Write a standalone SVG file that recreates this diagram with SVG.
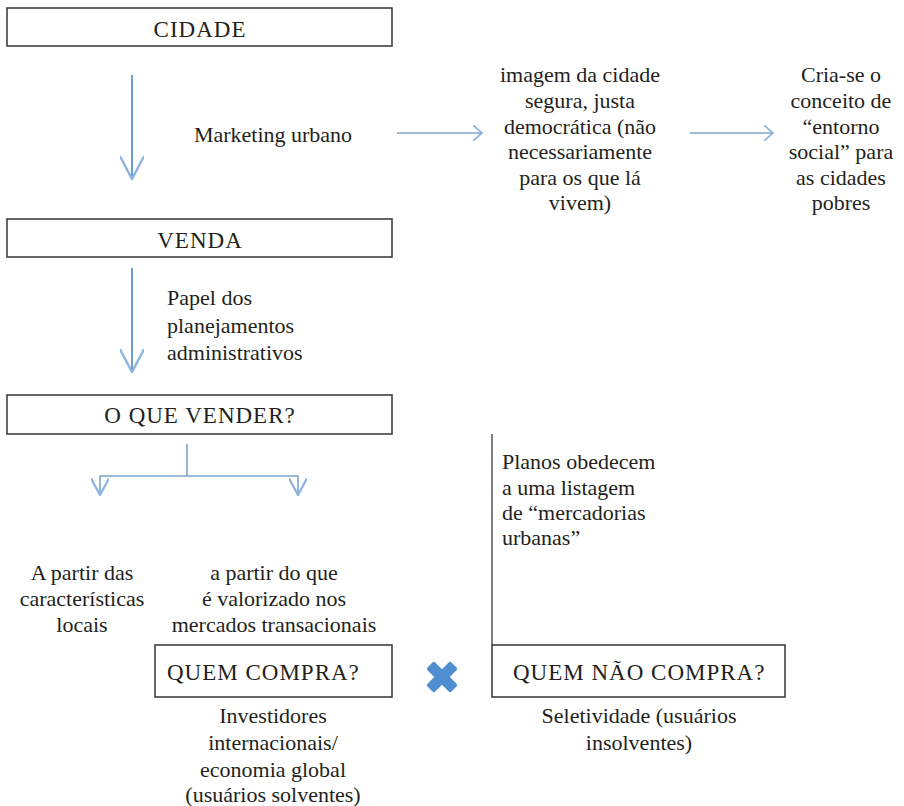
<svg xmlns="http://www.w3.org/2000/svg" width="904" height="806" viewBox="0 0 904 806">
<style>
  .t { font-size: 22px; fill: #231f20; }
  .cap { font-size: 23px; letter-spacing: 1px; }
  .c { text-anchor: middle; }
  .box { fill: #ffffff; stroke: #404040; stroke-width: 1.6; }
  .flow { fill: none; stroke: #6b9bd1; stroke-width: 2; }
  .hflow { fill: none; stroke: #7ea4cb; stroke-width: 1.6; }
  .tline { fill: none; stroke: #3a3a3a; stroke-width: 1.3; }
</style>
<defs>
  <marker id="vhead" markerUnits="userSpaceOnUse" markerWidth="24" markerHeight="24" refX="19" refY="10" orient="auto" viewBox="0 0 20 20">
    <polyline points="0,0 19,10 0,20" fill="none" stroke="#8db4e0" stroke-width="2"/>
  </marker>
  <marker id="bhead" markerUnits="userSpaceOnUse" markerWidth="18" markerHeight="18" refX="13" refY="7" orient="auto" viewBox="0 0 14 14">
    <polyline points="0,0 13,7 0,14" fill="none" stroke="#8db4e0" stroke-width="1.8"/>
  </marker>
  <marker id="hhead" markerUnits="userSpaceOnUse" markerWidth="12" markerHeight="16" refX="8" refY="7" orient="auto" viewBox="0 0 10 14">
    <polyline points="0,0 8,7 0,14" fill="none" stroke="#8db4e0" stroke-width="1.5"/>
  </marker>
</defs>

<g id="connectors">
  <line class="flow" x1="132" y1="75" x2="132" y2="179" marker-end="url(#vhead)"/>
  <line class="flow" x1="132" y1="268" x2="132" y2="372" marker-end="url(#vhead)"/>
  <line class="hflow" x1="397" y1="133" x2="482" y2="133" marker-end="url(#hhead)"/>
  <line class="hflow" x1="690" y1="133" x2="773" y2="133" marker-end="url(#hhead)"/>
  <polyline class="hflow" points="187,444 187,476"/>
  <polyline class="hflow" points="100,494 100,476 298,476 298,494"/>
  <line x1="100" y1="480" x2="100" y2="495" stroke="none" fill="none" marker-end="url(#bhead)"/>
  <line x1="298" y1="480" x2="298" y2="495" stroke="none" fill="none" marker-end="url(#bhead)"/>
  <line class="tline" x1="492" y1="434" x2="492" y2="645"/>
</g>

<g font-family="'Liberation Serif', 'Times New Roman', Times, serif" class="t">
<g id="cidade">
  <rect class="box" x="7" y="8" width="385" height="38"/>
  <text class="c cap" x="200" y="37">CIDADE</text>
</g>

<g id="marketing">
  <text class="c" x="273" y="142">Marketing urbano</text>
</g>

<g id="imagem">
  <text class="c" x="580" y="82">imagem da cidade</text>
  <text class="c" x="580" y="108">segura, justa</text>
  <text class="c" x="580" y="134">democrática (não</text>
  <text class="c" x="580" y="159">necessariamente</text>
  <text class="c" x="580" y="185">para os que lá</text>
  <text class="c" x="580" y="210">vivem)</text>
</g>

<g id="entorno">
  <text class="c" x="841" y="82">Cria-se o</text>
  <text class="c" x="841" y="108">conceito de</text>
  <text class="c" x="841" y="134">“entorno</text>
  <text class="c" x="841" y="159">social” para</text>
  <text class="c" x="841" y="185">as cidades</text>
  <text class="c" x="841" y="210">pobres</text>
</g>

<g id="venda">
  <rect class="box" x="7" y="219" width="385" height="38"/>
  <text class="c cap" x="200" y="248">VENDA</text>
</g>

<g id="papel">
  <text x="167" y="305">Papel dos</text>
  <text x="167" y="333">planejamentos</text>
  <text x="167" y="360">administrativos</text>
</g>

<g id="oquevender">
  <rect class="box" x="7" y="395" width="385" height="39"/>
  <text class="c cap" x="200" y="423">O QUE VENDER?</text>
</g>

<g id="planos">
  <text x="502" y="469">Planos obedecem</text>
  <text x="502" y="495">a uma listagem</text>
  <text x="502" y="520">de “mercadorias</text>
  <text x="502" y="545">urbanas”</text>
</g>

<g id="locais">
  <text class="c" x="82" y="580">A partir das</text>
  <text class="c" x="82" y="606">características</text>
  <text class="c" x="82" y="632">locais</text>
</g>

<g id="valorizado">
  <text class="c" x="274" y="580">a partir do que</text>
  <text class="c" x="274" y="606">é valorizado nos</text>
  <text class="c" x="274" y="632">mercados transacionais</text>
</g>

<g id="quemcompra">
  <rect class="box" x="155" y="645" width="237" height="52"/>
  <text class="cap" x="167" y="680">QUEM COMPRA?</text>
</g>

<g id="cross">
  <g transform="translate(442,677) rotate(45)" fill="#4f8fd1">
    <rect x="-17" y="-5.5" width="34" height="11" rx="2"/>
    <rect x="-5.5" y="-17" width="11" height="34" rx="2"/>
  </g>
</g>

<g id="quemnaocompra">
  <rect class="box" x="492" y="645" width="293" height="52"/>
  <text class="cap" x="513" y="680">QUEM NÃO COMPRA?</text>
</g>

<g id="investidores">
  <text class="c" x="273" y="723">Investidores</text>
  <text class="c" x="273" y="750">internacionais/</text>
  <text class="c" x="273" y="777">economia global</text>
  <text class="c" x="273" y="802">(usuários solventes)</text>
</g>

<g id="seletividade">
  <text class="c" x="639" y="723">Seletividade (usuários</text>
  <text class="c" x="639" y="750">insolventes)</text>
</g>
</g>
</svg>
